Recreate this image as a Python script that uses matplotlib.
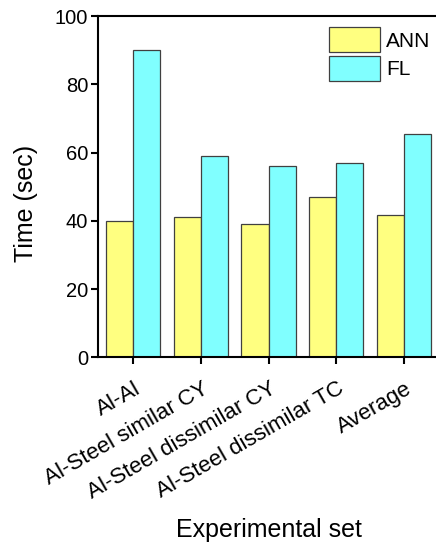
import numpy as np
import matplotlib
matplotlib.use('Agg')
import matplotlib.pyplot as plt
import matplotlib.transforms as mtransforms

plt.rcParams['font.family'] = ['Liberation Sans', 'DejaVu Sans']

# Data
categories = ['Al-Al', 'Al-Steel similar CY', 'Al-Steel dissimilar CY',
              'Al-Steel dissimilar TC', 'Average']
ann_time = [40, 41, 39, 47, 41.75]
fl_time = [90, 59, 56, 57, 65.5]

fig = plt.figure(figsize=(4.36, 5.42), dpi=100)
ax = fig.add_axes([98/436, 1 - 357.3/542, 341/436, 341.3/542])

x = np.arange(len(categories))
w = 0.4
ax.bar(x - w/2, ann_time, w, color='#ffff80', edgecolor='#404040', linewidth=0.9, label='ANN')
ax.bar(x + w/2, fl_time, w, color='#80ffff', edgecolor='#404040', linewidth=0.9, label='FL')

ax.set_xlim(-0.52, 4.52)
ax.set_ylim(0, 100)
ax.set_yticks([0, 20, 40, 60, 80, 100])
ax.set_xticks(x)
ax.set_xticklabels(categories, rotation=30, ha='right', rotation_mode='anchor')
ax.tick_params(axis='both', direction='out', length=5, width=1.5, labelsize=14.5)
ax.tick_params(axis='y', pad=2)
ax.tick_params(axis='x', pad=10, labelsize=16)
shift = mtransforms.ScaledTranslation(0.5/72, 0, fig.dpi_scale_trans)
for lab in ax.get_xticklabels():
    lab.set_transform(lab.get_transform() + shift)
for s in ['left', 'bottom', 'top']:
    ax.spines[s].set_linewidth(1.5)
ax.spines['right'].set_visible(False)

ax.set_ylabel('Time (sec)', fontsize=18)
ax.yaxis.set_label_coords(-0.175, 0.452)
ax.set_xlabel('Experimental set', fontsize=18)
ax.xaxis.set_label_coords(0.5, -0.47)

ax.legend(loc='upper right', bbox_to_anchor=(0.975, 0.967), frameon=False,
          fontsize=15, handlelength=2.45, handleheight=1.45, handletextpad=0.3,
          labelspacing=0.2, borderaxespad=0.0, borderpad=0.0)

plt.savefig('out.png', dpi=100)
